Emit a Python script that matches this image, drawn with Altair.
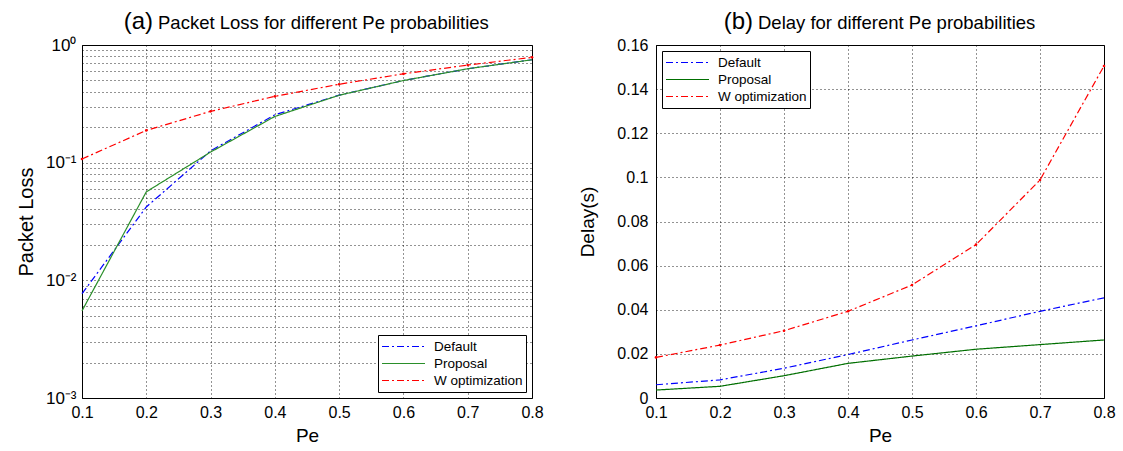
import altair as alt
import pandas as pd

FONT = "Liberation Sans"

# Pe probabilities on the x axis
pe = [0.1, 0.2, 0.3, 0.4, 0.5, 0.6, 0.7, 0.8]
series = ["Default", "Proposal", "W optimization"]

# (a) packet loss ratio
loss_default = [0.0077, 0.042, 0.126, 0.255, 0.375, 0.499, 0.628, 0.749]
loss_proposal = [0.0055, 0.0565, 0.123, 0.247, 0.374, 0.499, 0.628, 0.749]
loss_w = [0.1075, 0.188, 0.273, 0.366, 0.464, 0.569, 0.675, 0.785]

# (b) delay in seconds
delay_default = [0.0060, 0.0082, 0.0135, 0.0197, 0.0263, 0.0327, 0.0393, 0.0454]
delay_proposal = [0.0036, 0.0053, 0.0101, 0.0157, 0.0190, 0.0221, 0.0242, 0.0263]
delay_w = [0.0184, 0.0240, 0.0305, 0.0393, 0.0512, 0.0695, 0.0988, 0.1505]

# axis ticks
log_ticks = [0.001, 0.002, 0.003, 0.004, 0.005, 0.006, 0.007, 0.008, 0.009,
             0.01, 0.02, 0.03, 0.04, 0.05, 0.06, 0.07, 0.08, 0.09,
             0.1, 0.2, 0.3, 0.4, 0.5, 0.6, 0.7, 0.8, 0.9, 1]
delay_ticks = [0, 0.02, 0.04, 0.06, 0.08, 0.1, 0.12, 0.14, 0.16]

dash_range = [[7, 3, 2, 3], [1, 0], [7, 3, 2, 3]]

GRID = dict(grid=True, gridDash=[1, 3], gridColor="#000", gridOpacity=0.85)


def table(columns):
    rows = []
    for name, vals in zip(series, columns):
        for x, v in zip(pe, vals):
            rows.append({"Pe": x, "value": v, "series": name})
    return pd.DataFrame(rows)


def panel(df, letter, heading, letter_x, y_scale, y_axis, colors, legend_orient):
    legend = alt.Legend(
        title=None, orient=legend_orient, offset=6, fillColor="white",
        strokeColor="black", padding=3, cornerRadius=0,
        labelFont=FONT, labelFontSize=13.5, labelColor="black", labelOffset=8,
        symbolType="stroke", symbolSize=1849, symbolStrokeWidth=1.2,
        clipHeight=17, rowPadding=0,
    )
    x_enc = alt.X(
        "Pe:Q",
        scale=alt.Scale(domain=[0.1, 0.8], nice=False, zero=False),
        axis=alt.Axis(values=pe, format=".1f", title="Pe", labelFontSize=16,
                      titleFontSize=19, ticks=False, domain=False, labelPadding=6,
                      titleY=43, titleBaseline="alphabetic", labelFlush=False, **GRID),
    )
    y_enc = alt.Y("value:Q", scale=y_scale, axis=y_axis)
    base = alt.Chart(df)
    lines = base.mark_line(strokeWidth=1.2).encode(
        x=x_enc,
        y=y_enc,
        color=alt.Color("series:N", scale=alt.Scale(domain=series, range=colors), legend=legend),
        strokeDash=alt.StrokeDash("series:N", scale=alt.Scale(domain=series, range=dash_range), legend=legend),
        detail="series:N",
    )
    dots = base.transform_filter(alt.datum.series == "W optimization").mark_circle(
        size=7, opacity=1
    ).encode(x="Pe:Q", y="value:Q", color=alt.value(colors[2]))
    label_df = pd.DataFrame({"letter": [letter], "heading": [heading]})
    letter_mark = alt.Chart(label_df).mark_text(
        fontSize=24, align="right", baseline="alphabetic", font=FONT, color="black"
    ).encode(text="letter:N", x=alt.value(letter_x), y=alt.value(-16.5))
    heading_mark = alt.Chart(label_df).mark_text(
        fontSize=18.5, align="left", baseline="alphabetic", font=FONT, color="black"
    ).encode(text="heading:N", x=alt.value(letter_x + 5), y=alt.value(-16.5))
    return alt.layer(lines, dots, letter_mark, heading_mark)


loss_df = table([loss_default, loss_proposal, loss_w])
delay_df = table([delay_default, delay_proposal, delay_w])

decade_expr = ("datum.value == 1 ? '10⁰' : datum.value == 0.1 ? '10⁻¹' : "
               "datum.value == 0.01 ? '10⁻²' : datum.value == 0.001 ? '10⁻³' : ''")

left = panel(
    loss_df, "(a)", "Packet Loss for different Pe probabilities", 71,
    alt.Scale(type="log", domain=[0.001, 1], nice=False),
    alt.Axis(values=log_ticks, labelExpr=decade_expr, title="Packet Loss",
             labelFontSize=17, titleFontSize=20, ticks=False, domain=False,
             labelPadding=6, titleX=-50, titleY=176.5, titleAngle=270,
             titleBaseline="alphabetic", titleAlign="center", labelFlush=False, **GRID),
    ["#0000ff", "#2a8f2a", "#ff0000"], "bottom-right",
).properties(width=450, height=353)

right = panel(
    delay_df, "(b)", "Delay for different Pe probabilities", 97,
    alt.Scale(domain=[0, 0.16], nice=False),
    alt.Axis(values=delay_ticks, format="~g", title="Delay(s)",
             labelFontSize=16, titleFontSize=19, ticks=False, domain=False,
             labelPadding=8, titleX=-63, titleY=176.5, titleAngle=270,
             titleBaseline="alphabetic", titleAlign="center", labelFlush=False, **GRID),
    ["#0000ff", "#006f00", "#ff0000"], "top-left",
).properties(width=448, height=353)

chart = alt.hconcat(left, right, spacing=33).resolve_scale(
    color="independent", strokeDash="independent"
).resolve_legend(
    color="independent", strokeDash="independent"
).configure_view(
    stroke="black", strokeWidth=1
).configure_axis(
    labelFont=FONT, titleFont=FONT, labelColor="black", titleColor="black",
    titleFontWeight="normal"
).properties(
    padding={"left": 15, "top": 9, "right": 5, "bottom": 5},
    background="white",
)

chart.save("out.html", embed_options={"renderer": "svg", "actions": False})
